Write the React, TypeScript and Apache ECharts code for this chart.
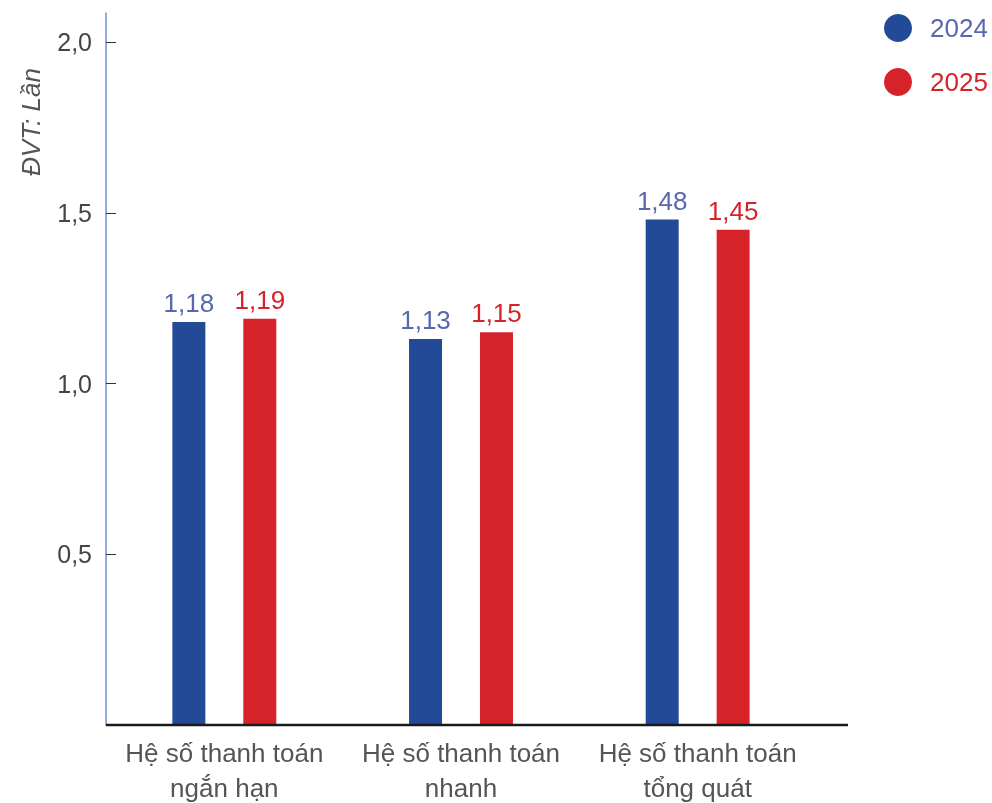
import React, { useEffect, useRef } from "react";
import * as echarts from "echarts";

const categories = [
  "Hệ số thanh toán\nngắn hạn",
  "Hệ số thanh toán\nnhanh",
  "Hệ số thanh toán\ntổng quát",
];
const values2024 = [1.18, 1.13, 1.48];
const values2025 = [1.19, 1.15, 1.45];
const tickValues = [0.5, 1, 1.5, 2];
const unitLabel = "ĐVT: Lần";

const BLUE = "#234a96";
const BLUE_TEXT = "#5868ad";
const RED = "#d6232a";
const FONT = "Liberation Sans, Arial, sans-serif";

const fmt = (v: number, d: number) => v.toFixed(d).replace(".", ",");

export default function App() {
  const ref = useRef<HTMLDivElement>(null);

  useEffect(() => {
    if (!ref.current) return;
    const chart = echarts.init(ref.current, undefined, { renderer: "svg" });
    const gridLeft = 106;
    const gridRight = 176;
    const baselineEnd = 848;
    chart.setOption({
      animation: false,
      textStyle: { fontFamily: FONT },
      grid: {
        left: gridLeft,
        right: gridRight,
        top: 13,
        bottom: 78,
        outerBoundsMode: "none",
        containLabel: false,
      },
      legend: {
        orient: "vertical",
        left: 884,
        top: 14,
        padding: 0,
        icon: "circle",
        itemWidth: 28,
        itemHeight: 28,
        itemGap: 26,
        textStyle: { fontSize: 26, fontFamily: FONT, padding: [0, 0, 0, 13] },
        data: [
          { name: "2024", textStyle: { color: BLUE_TEXT } },
          { name: "2025", textStyle: { color: RED } },
        ],
      },
      xAxis: {
        type: "category",
        data: categories,
        axisLine: { show: false },
        axisTick: { show: false },
        axisLabel: {
          color: "#555",
          fontSize: 26,
          lineHeight: 35,
          margin: 10,
          interval: 0,
        },
      },
      yAxis: {
        type: "value",
        min: 0,
        max: 2.085,
        interval: 0.5,
        splitLine: { show: false },
        axisLine: { show: true, lineStyle: { color: "#7090cc", width: 1.5 } },
        axisTick: {
          show: true,
          inside: true,
          length: 10,
          customValues: tickValues,
          lineStyle: { color: "#333" },
        },
        axisLabel: {
          color: "#444",
          fontSize: 25,
          margin: 14,
          customValues: tickValues,
          formatter: (v: number) => fmt(v, 1),
        },
      },
      graphic: [
        {
          type: "text",
          x: 31,
          y: 122,
          rotation: Math.PI / 2,
          style: {
            text: unitLabel,
            fill: "#555",
            fontSize: 26,
            fontStyle: "italic",
            fontFamily: FONT,
            align: "center",
            verticalAlign: "middle",
          },
        },
      ],
      series: [
        {
          name: "2024",
          type: "bar",
          data: values2024,
          barWidth: 33,
          barGap: "115%",
          itemStyle: { color: BLUE },
          label: {
            show: true,
            position: "top",
            distance: 6,
            color: BLUE_TEXT,
            fontSize: 26,
            formatter: (p: any) => fmt(p.value, 2),
          },
        },
        {
          name: "2025",
          type: "bar",
          data: values2025,
          barWidth: 33,
          itemStyle: { color: RED },
          label: {
            show: true,
            position: "top",
            distance: 6,
            color: RED,
            fontSize: 26,
            formatter: (p: any) => fmt(p.value, 2),
          },
        },
      ],
    });

    // baseline at value 0, running past the last category band
    const y0 = chart.convertToPixel({ yAxisIndex: 0 }, 0) as number;
    chart.setOption({
      graphic: [
        {},
        {
          type: "line",
          z: 10,
          shape: { x1: gridLeft, y1: y0, x2: baselineEnd, y2: y0 },
          style: { stroke: "#1a1a1a", lineWidth: 2.5 },
        },
      ],
    });
    return () => chart.dispose();
  }, []);

  return (
    <div
      ref={ref}
      style={{ position: "fixed", left: 0, top: 0, width: 992, height: 803 }}
    />
  );
}
